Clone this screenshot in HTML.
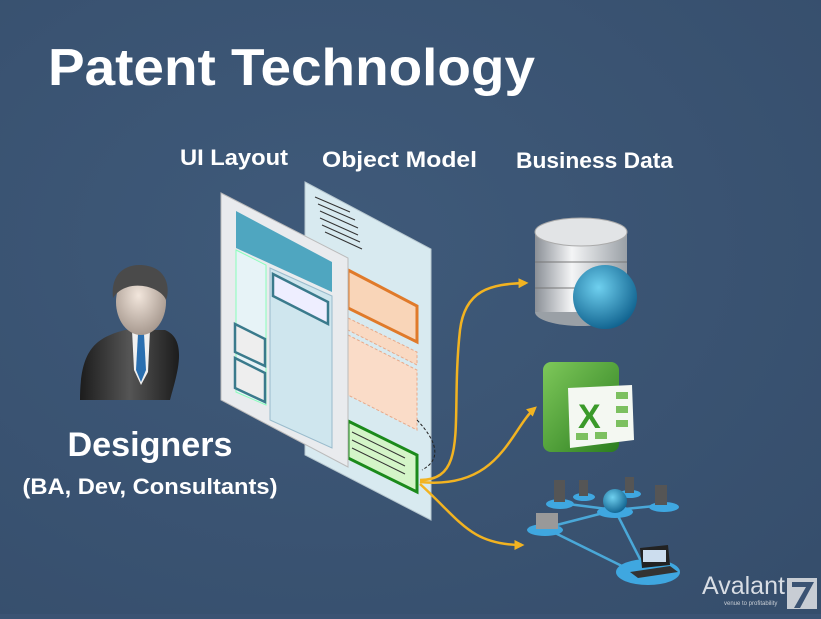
<!DOCTYPE html>
<html><head><style>
body{margin:0;width:821px;height:614px;overflow:hidden;background:#3b5373;font-family:"Liberation Sans",sans-serif}
</style></head><body>
<svg width="821" height="614" viewBox="0 0 821 614" xmlns="http://www.w3.org/2000/svg">
<defs>
<radialGradient id="bg" cx="0.4" cy="0.4" r="0.8"><stop offset="0" stop-color="#3f5a7a"/><stop offset="1" stop-color="#364e6c"/></radialGradient>
<linearGradient id="cyl" x1="0" x2="1"><stop offset="0" stop-color="#8a8f96"/><stop offset="0.4" stop-color="#f4f5f6"/><stop offset="1" stop-color="#9aa0a6"/></linearGradient>
<radialGradient id="globe" cx="0.4" cy="0.35" r="0.7"><stop offset="0" stop-color="#6fd0ef"/><stop offset="1" stop-color="#0d5f8c"/></radialGradient>
<linearGradient id="xl" x1="0" y1="0" x2="1" y2="1"><stop offset="0" stop-color="#7ec85a"/><stop offset="1" stop-color="#2b7d1f"/></linearGradient>
<linearGradient id="suit" x1="0" x2="1"><stop offset="0" stop-color="#1c1c1c"/><stop offset="0.5" stop-color="#555"/><stop offset="1" stop-color="#1c1c1c"/></linearGradient>
<radialGradient id="face" cx="0.45" cy="0.4" r="0.6"><stop offset="0" stop-color="#f2e6dc"/><stop offset="1" stop-color="#a89a90"/></radialGradient>
<marker id="ah" markerWidth="4" markerHeight="4" refX="3" refY="2" orient="auto"><path d="M0,0 L4,2 L0,4z" fill="#f2b321"/></marker>
</defs>
<rect width="821" height="614" fill="url(#bg)"/>
<text x="48" y="85" font-size="52" font-weight="bold" fill="#fff" textLength="487" lengthAdjust="spacingAndGlyphs">Patent Technology</text>
<text x="180" y="165" font-size="22" font-weight="bold" fill="#fff" textLength="108" lengthAdjust="spacingAndGlyphs">UI Layout</text>
<text x="322" y="167" font-size="22" font-weight="bold" fill="#fff" textLength="155" lengthAdjust="spacingAndGlyphs">Object Model</text>
<text x="516" y="168" font-size="22" font-weight="bold" fill="#fff" textLength="157" lengthAdjust="spacingAndGlyphs">Business Data</text>

<!-- object model panel -->
<polygon points="305,182 431,249 431,520 305,455" fill="#d8eaf0" stroke="#b8c8d0"/>
<g stroke="#333" stroke-width="1">
<line x1="315" y1="197" x2="350" y2="212"/><line x1="318" y1="204" x2="355" y2="220"/><line x1="320" y1="211" x2="358" y2="228"/><line x1="320" y1="218" x2="358" y2="235"/><line x1="322" y1="225" x2="360" y2="242"/><line x1="325" y1="232" x2="362" y2="249"/>
</g>
<polygon points="348,270 417,306 417,342 348,308" fill="#f9d5b8" stroke="#e07a2a" stroke-width="3"/>
<polygon points="348,318 417,352 417,365 348,330" fill="#f9d9c2" stroke="#e7a98a" stroke-dasharray="3,2"/>
<polygon points="348,335 417,370 417,430 348,395" fill="#fadcc8" stroke="#e7a98a" stroke-dasharray="3,2"/>
<polygon points="348,421 417,455 417,492 348,458" fill="#d4f5c8" stroke="#1b8a1b" stroke-width="3"/>
<g stroke="#333" stroke-width="1"><line x1="352" y1="432" x2="405" y2="458"/><line x1="352" y1="440" x2="405" y2="466"/><line x1="352" y1="448" x2="405" y2="474"/></g>
<path d="M417,420 Q450,455 422,470" fill="none" stroke="#222" stroke-dasharray="3,2"/>
<!-- UI layout panel -->
<polygon points="221,193 348,258 348,467 221,400" fill="#e9ebee" stroke="#bbb"/>
<polygon points="236,211 332,262 332,292 236,248" fill="#4fa6c0"/>
<polygon points="236,250 266,265 266,405 236,392" fill="#e7f3f7" stroke="#8fb"/>
<polygon points="270,268 332,296 332,448 270,420" fill="#cfe6ee" stroke="#9bc"/>
<polygon points="273,274 328,302 328,324 273,296" fill="#eef" stroke="#3a7a8c" stroke-width="2.5"/>
<polygon points="235,324 265,339 265,366 235,352" fill="#eee" stroke="#3a7a8c" stroke-width="2.5"/>
<polygon points="235,358 265,373 265,402 235,388" fill="#eee" stroke="#3a7a8c" stroke-width="2.5"/>

<!-- arrows -->
<g fill="none" stroke="#f2b321" stroke-width="2.5">
<path d="M420,480 C470,480 450,420 460,330 C465,290 490,284 526,283" marker-end="url(#ah)"/>
<path d="M420,482 C500,490 510,430 535,408" marker-end="url(#ah)"/>
<path d="M420,484 C460,520 470,545 522,545" marker-end="url(#ah)"/>
</g>

<!-- database -->
<ellipse cx="581" cy="312" rx="46" ry="14" fill="#9aa0a6"/>
<rect x="535" y="232" width="92" height="80" fill="url(#cyl)"/>
<line x1="535" y1="262" x2="627" y2="262" stroke="#777"/><line x1="535" y1="288" x2="627" y2="288" stroke="#777"/>
<ellipse cx="581" cy="232" rx="46" ry="14" fill="#e2e4e6" stroke="#aaa"/>
<circle cx="605" cy="297" r="32" fill="url(#globe)"/>

<!-- excel -->
<rect x="543" y="362" width="76" height="90" rx="8" fill="url(#xl)"/>
<polygon points="568,388 632,385 634,440 570,448" fill="#f4f8f2"/>
<text x="578" y="428" font-size="34" font-weight="bold" fill="#3a9a2a">X</text>
<g fill="#7cc060"><rect x="616" y="392" width="12" height="7"/><rect x="616" y="406" width="12" height="7"/><rect x="616" y="420" width="12" height="7"/><rect x="576" y="433" width="12" height="7"/><rect x="595" y="432" width="12" height="7"/></g>

<!-- network -->
<g stroke="#4aa8d8" stroke-width="2.5"><line x1="560" y1="503" x2="615" y2="510"/><line x1="615" y1="510" x2="665" y2="505"/><line x1="615" y1="510" x2="545" y2="528"/><line x1="545" y1="528" x2="630" y2="570"/><line x1="615" y1="510" x2="643" y2="565"/></g>
<g fill="#3fa7e0"><ellipse cx="560" cy="504" rx="14" ry="5"/><ellipse cx="584" cy="497" rx="11" ry="4"/><ellipse cx="630" cy="494" rx="11" ry="4"/><ellipse cx="664" cy="507" rx="15" ry="5"/><ellipse cx="615" cy="512" rx="18" ry="6"/><ellipse cx="545" cy="530" rx="18" ry="6"/><ellipse cx="648" cy="572" rx="32" ry="13"/></g>
<g fill="#555"><rect x="554" y="480" width="11" height="22"/><rect x="579" y="480" width="9" height="16"/><rect x="625" y="477" width="9" height="16"/><rect x="655" y="485" width="12" height="20"/><rect x="536" y="513" width="22" height="16" fill="#999"/></g>
<circle cx="615" cy="501" r="12" fill="url(#globe)"/>
<polygon points="640,548 668,545 670,565 642,568" fill="#222"/><rect x="643" y="550" width="23" height="12" fill="#cde"/>
<polygon points="630,572 670,566 678,572 638,578" fill="#333"/>

<!-- logo -->
<text x="702" y="594" font-size="25" fill="#d8dde4">Avalant</text>
<text x="724" y="605" font-size="6" fill="#c8cdd4">venue to profitability</text>
<rect x="787" y="578" width="30" height="31" fill="#c8cdd4"/>
<polygon points="792,582 814,582 800,608 794,608 806,587 792,587" fill="#3b5373"/>

<!-- person -->
<path d="M80,400 C80,350 95,338 125,330 L165,330 C190,340 175,380 170,400 Z" fill="url(#suit)"/>
<polygon points="132,330 150,330 148,372 141,385 134,370" fill="#f0f0f0"/>
<polygon points="138,334 144,334 146,370 141,382 136,370" fill="#2a6fb0"/>
<ellipse cx="141" cy="302" rx="25" ry="33" fill="url(#face)"/>
<path d="M113,298 C110,270 130,262 148,266 C168,270 170,290 166,300 C160,285 125,278 113,298Z" fill="#4a4a4a"/>
<text x="150" y="456" font-size="34" font-weight="bold" fill="#fff" text-anchor="middle" textLength="165" lengthAdjust="spacingAndGlyphs">Designers</text>
<text x="150" y="494" font-size="22" font-weight="bold" fill="#fff" text-anchor="middle" textLength="255" lengthAdjust="spacingAndGlyphs">(BA, Dev, Consultants)</text>
</svg>
</body></html>
